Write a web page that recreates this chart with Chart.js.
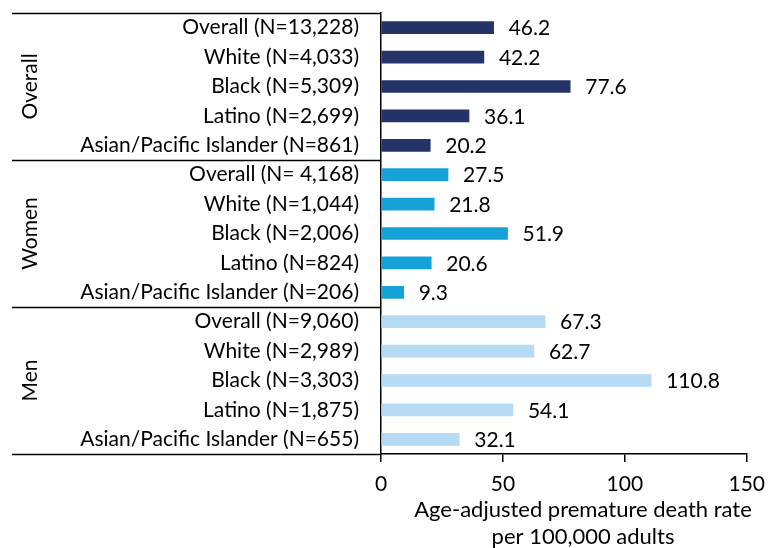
<!DOCTYPE html>
<html>
<head>
<meta charset="utf-8">
<script src="https://cdn.jsdelivr.net/npm/chart.js@4"></script>
<style>
  html, body { margin: 0; padding: 0; background: #fff; }
  #wrap { width: 775px; height: 548px; }
</style>
</head>
<body>
<div id="wrap"><canvas id="chart" width="775" height="548"></canvas></div>
<script>
const groups = ['Overall', 'Women', 'Men'];
const categories = [
  'Overall (N=13,228)', 'White (N=4,033)', 'Black (N=5,309)', 'Latino (N=2,699)', 'Asian/Pacific Islander (N=861)',
  'Overall (N= 4,168)', 'White (N=1,044)', 'Black (N=2,006)', 'Latino (N=824)', 'Asian/Pacific Islander (N=206)',
  'Overall (N=9,060)', 'White (N=2,989)', 'Black (N=3,303)', 'Latino (N=1,875)', 'Asian/Pacific Islander (N=655)'
];
const rates = [46.2, 42.2, 77.6, 36.1, 20.2, 27.5, 21.8, 51.9, 20.6, 9.3, 67.3, 62.7, 110.8, 54.1, 32.1];
const groupColors = ['#253468', '#14a2d9', '#b5dcf4'];
const xTicks = [0, 50, 100, 150];

const FONT = 'Lato, "Open Sans", sans-serif';
const barColors = rates.map((v, i) => groupColors[Math.floor(i / 5)]);

// group labels, separator lines, value labels and axis title
const extras = {
  id: 'extras',
  afterDraw(chart) {
    const ctx = chart.ctx;
    const area = chart.chartArea;
    const step = (area.bottom - area.top) / categories.length;
    ctx.save();
    ctx.strokeStyle = '#000';
    ctx.lineWidth = 1.5;
    for (let g = 0; g <= groups.length; g++) {
      const yy = Math.round(area.top + g * 5 * step) + 0.5;
      ctx.beginPath();
      ctx.moveTo(12, yy);
      ctx.lineTo(area.left, yy);
      ctx.stroke();
    }
    ctx.fillStyle = '#000';
    ctx.font = '21px ' + FONT;
    ctx.textAlign = 'center';
    ctx.textBaseline = 'middle';
    groups.forEach((g, i) => {
      const cy = area.top + (i * 5 + 2.5) * step;
      ctx.save();
      ctx.translate(30, cy);
      ctx.rotate(-Math.PI / 2);
      ctx.fillText(g, 0, 0);
      ctx.restore();
    });
    // value labels
    const meta = chart.getDatasetMeta(0);
    ctx.textAlign = 'left';
    meta.data.forEach((bar, i) => {
      ctx.fillText(rates[i].toFixed(1), bar.x + 15, bar.y + 1);
    });
    // axis title
    ctx.textAlign = 'center';
    ctx.font = '22px ' + FONT;
    ctx.fillText('Age-adjusted premature death rate', 583, 510);
    ctx.fillText('per 100,000 adults', 583, 537);
    ctx.restore();
  }
};

new Chart(document.getElementById('chart').getContext('2d'), {
  type: 'bar',
  data: {
    labels: categories,
    datasets: [{
      data: rates,
      backgroundColor: barColors,
      barThickness: 12,
      borderWidth: 0
    }]
  },
  options: {
    indexAxis: 'y',
    responsive: false,
    animation: false,
    layout: { padding: { top: 0, right: 26, left: 0, bottom: 0 } },
    plugins: {
      legend: { display: false },
      tooltip: { enabled: false }
    },
    scales: {
      x: {
        min: 0,
        max: 150,
        afterBuildTicks: axis => { axis.ticks = xTicks.map(v => ({ value: v })); },
        afterFit: axis => { axis.height = 94; },
        grid: { drawOnChartArea: false, drawTicks: true, tickLength: 8, color: '#000', lineWidth: 1.5 },
        border: { display: true, color: '#000', width: 1.5 },
        ticks: { color: '#000', font: { family: FONT, size: 21 }, padding: 10, maxRotation: 0 }
      },
      y: {
        afterFit: axis => { axis.width = 381; axis.paddingTop = 13; axis.paddingBottom = 0; },
        grid: { display: false },
        border: { display: true, color: '#000', width: 1.5 },
        ticks: { color: '#000', font: { family: FONT, size: 21 }, padding: 14, autoSkip: false }
      }
    }
  },
  plugins: [extras]
});
</script>
</body>
</html>
